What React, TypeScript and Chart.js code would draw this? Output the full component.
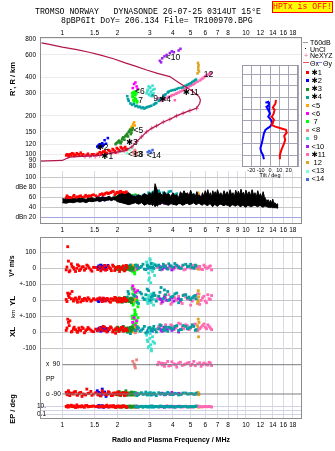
import React, { useEffect, useRef } from 'react';
import { Chart, registerables } from 'chart.js';

Chart.register(...registerables);

const SANS = '"Liberation Sans", Arial, "DejaVu Sans", sans-serif';
const MONO = '"Liberation Mono", "DejaVu Sans Mono", monospace';

// ---- frequency axis (MHz, logarithmic) ----
const FREQ_MIN = 0.756;
const FREQ_MAX = 20.2;
const freqGrid = [1, 1.5, 2, 3, 4, 5, 6, 7, 8, 9, 10, 12, 14, 16, 18];
const freqLabelsTop = [1, 1.5, 2, 3, 4, 5, 6, 7, 8, 10, 12, 14, 16, 18];
const freqLabelsMid = [1, 1.5, 2, 3, 4, 5, 6, 7, 8, 9, 10, 12, 14, 16, 18];
const freqLabelsBottom = [1, 1.5, 2, 3, 4, 5, 6, 7, 8, 10, 12, 14, 16, 18];

// ---- value axes ----
const rangeTicks = [80, 90, 100, 120, 150, 200, 300, 400, 600, 800];
const dbTicks = [20, 40, 60, 80, 100];
const dbTickText: Record<number, string> = { 20: 'dBn 20', 40: '40', 60: '60', 80: 'dBe 80', 100: '100' };
const velTicks = [0, 100];
const ylTicks = [0, 100];
const xlTicks = [-100, 0, 100];
const ppTicks = [-90, 0, 90];
const ppTickText: Record<number, string> = { 90: 'x  90', 0: 'PP', [-90]: 'o -90' };
const epTicks = [0.1, 1, 10];
const epTickText: Record<number, string> = { 10: '10.', 0.1: '0.1' };
const tiltTicks = [-30, -20, -10, 0, 10, 20, 30];
const tiltHeights = [100, 150, 200, 250, 300, 350, 400, 450];

// ---- echoes: [freq MHz, R' km, amplitude dB, V* m/s, YL km, XL km, PP deg, EP deg] ----
type Echo = number[];

const echoes1: Echo[] = [
  [1.05, 98, 60, -10, 5, 10, -80, 12], [1.07, 99, 62, 135, 45, 80, -95, 20], [1.08, 97, 58, 45, 30, 60, -70, 8],
  [1.10, 100, 61, -15, 40, 70, -100, 15], [1.12, 98, 59, 28, 10, 0, -85, 25], [1.15, 101, 63, 5, -5, 20, -90, 10],
  [1.18, 99, 60, -20, 15, 15, -75, 6], [1.20, 102, 62, 0, 0, 5, -95, 30], [1.23, 100, 61, 15, 10, 25, -88, 12],
  [1.26, 103, 64, -5, -10, 10, -80, 9], [1.28, 98, 60, 8, 5, 30, -105, 18], [1.32, 97, 62, -12, 12, -5, -92, 7],
  [1.36, 99, 63, 20, -3, 15, -60, 22], [1.40, 98, 64, 2, 8, 20, -85, 11], [1.45, 100, 65, -18, 0, 5, -98, 14],
  [1.52, 99, 64, 5, 3, 18, -82, 10], [1.56, 101, 62, -8, 10, 8, -95, 14], [1.60, 104, 66, 10, 15, 25, -90, 9],
  [1.65, 103, 68, -5, -8, 10, -70, 16], [1.70, 106, 67, 18, 5, 30, -88, 10], [1.75, 102, 70, -8, 12, 0, -95, 25],
  [1.80, 107, 69, 5, -5, 15, -80, 8], [1.85, 104, 71, -15, 10, 25, -100, 13], [1.90, 108, 72, 12, 0, 10, -85, 20],
  [1.95, 103, 68, -3, 15, -8, -92, 6], [2.00, 110, 70, 8, -10, 20, -78, 15], [2.05, 106, 72, -20, 5, 12, -96, 11],
  [2.10, 112, 69, 0, 10, 28, -88, 9], [2.15, 108, 71, 15, -6, 5, -82, 18], [2.20, 114, 68, -10, 8, 18, -94, 12],
  [2.25, 110, 70, 5, 0, 10, -86, 7],
  [1.06, 100, 64, 8, -8, 25, -92, 9], [1.09, 98, 57, -22, 18, 40, -82, 14], [1.13, 102, 60, 12, 55, 5, -88, 11],
  [1.16, 97, 65, -6, 8, 30, -78, 16], [1.21, 100, 59, 22, -12, -2, -98, 8], [1.24, 98, 63, -14, 20, 12, -84, 13],
  [1.30, 100, 61, 10, -2, 22, -90, 10], [1.34, 98, 65, -2, 6, 8, -96, 19], [1.38, 101, 60, 14, 16, 28, -86, 9],
  [1.43, 97, 63, -10, -6, 12, -74, 12], [1.48, 100, 66, 6, 10, 2, -90, 15], [1.62, 101, 67, -16, 2, 18, -102, 11],
  [1.67, 105, 65, 4, 14, 35, -84, 8], [1.72, 103, 69, -12, -4, 8, -92, 13], [1.78, 108, 68, 14, 8, 22, -76, 10],
  [1.83, 105, 70, -2, -12, 32, -90, 17], [1.88, 110, 73, 20, 6, 0, -98, 9], [1.93, 106, 66, -14, 18, 14, -84, 12],
  [1.98, 112, 71, 2, -2, 26, -90, 10], [2.03, 108, 69, 10, 12, 4, -80, 14], [2.08, 114, 73, -6, -8, 16, -94, 8],
  [2.13, 110, 67, 6, 2, 30, -88, 11], [2.18, 112, 70, -16, 14, 8, -100, 13], [2.23, 108, 72, 18, -4, 20, -84, 9],
];
const echoes2: Echo[] = [
  [1.55, 115, 57, 5, 2, 10, -70, 12], [1.58, 118, 56, 15, -5, 20, -95, 8], [1.60, 120, 58, 0, 5, 25, -85, 15],
  [1.62, 116, 55, 20, 8, 5, -100, 10], [1.65, 122, 57, 10, 0, 15, -60, 18], [1.68, 119, 59, -5, 10, 30, -90, 7],
  [1.70, 129, 56, 12, -3, 12, -78, 11], [1.73, 121, 58, 5, 6, 22, -105, 14], [1.77, 134, 57, 18, 2, 8, -88, 9],
  [1.58, 113, 60, 8, -8, 18, -80, 20], [1.63, 118, 58, 2, 4, 28, -92, 10], [1.66, 116, 56, 14, -2, 12, -84, 13],
];
const echoes3: Echo[] = [
  [1.95, 120, 62, 5, 10, 20, -85, 10], [2.00, 124, 55, -8, -5, 30, -95, 12], [2.04, 128, 65, 10, 15, 5, -75, 8],
  [2.08, 122, 58, -3, 0, 25, -100, 15], [2.12, 132, 68, 8, -12, 12, -88, 9], [2.15, 136, 52, -10, 5, 35, -80, 14],
  [2.18, 130, 60, 2, 18, 8, -92, 11], [2.22, 140, 66, 6, -8, 20, -70, 7], [2.26, 145, 50, -6, 8, 0, -98, 13],
  [2.30, 150, 62, 12, -2, 15, -84, 10], [2.34, 156, 57, -12, 10, 28, -90, 16], [2.38, 148, 64, 0, -15, 10, -78, 8],
  [2.42, 160, 55, 4, 4, 22, -95, 12], [2.10, 126, 62, 6, 12, 18, -82, 9], [2.28, 138, 58, -4, 0, 5, -88, 10],
  [1.97, 122, 58, 0, 0, 10, -90, 11], [2.02, 126, 63, 10, 8, 22, -84, 9], [2.06, 124, 60, -6, -10, 15, -94, 12],
  [2.14, 134, 56, 4, 12, 30, -88, 10], [2.20, 138, 64, -8, -4, 12, -80, 13], [2.24, 142, 60, 10, 6, 25, -92, 8],
  [2.32, 152, 66, -2, -8, 18, -86, 11], [2.36, 144, 54, 8, 14, 5, -96, 9], [2.40, 155, 60, -10, 2, 32, -82, 12],
];
const echoes4: Echo[] = [
  [2.26, 285, 60, 10, 20, 10, -90, 10], [2.30, 262, 58, -5, 40, 25, -85, 12], [2.35, 250, 55, 20, 5, -10, -95, 8],
  [2.45, 248, 62, 0, 30, 15, -80, 14], [2.55, 240, 57, 15, -10, 30, -100, 9], [2.65, 236, 60, 5, 50, 5, -88, 11],
  [2.75, 233, 65, 25, 15, 20, -92, 7], [2.85, 232, 58, -8, 35, -5, -78, 13], [2.95, 236, 70, 10, 60, 25, -90, 10],
  [3.05, 240, 66, 30, 20, 10, -95, 15], [3.15, 245, 72, 0, 45, 35, -85, 9], [3.25, 252, 68, 15, -5, 0, -100, 12],
  [3.35, 262, 74, 20, 25, 20, -82, 8], [3.45, 275, 65, 5, 80, 40, -90, 14], [3.55, 285, 70, 25, 10, 15, -88, 10],
  [3.65, 295, 62, 10, 35, 30, -94, 11], [3.75, 305, 68, -5, 55, 5, -80, 9], [3.90, 315, 73, 15, 20, 25, -92, 13],
  [4.10, 320, 66, 30, 40, 35, -86, 7], [4.30, 330, 60, 5, -15, 10, -96, 10], [4.55, 335, 64, 20, 30, 40, -84, 12],
  [4.80, 350, 58, 10, 15, 20, -90, 8], [5.00, 360, 62, 25, 5, 30, -88, 11], [5.20, 375, 66, 0, 25, 35, -92, 9],
  [5.35, 385, 60, 15, 10, 15, -85, 14], [3.10, 290, 70, 5, 30, 20, -90, 10],
  [2.28, 270, 62, 15, 55, 0, -88, 9], [2.40, 244, 60, -10, 10, 30, -92, 12], [2.50, 238, 64, 20, 25, 8, -86, 10],
  [2.60, 234, 58, 0, -20, 25, -94, 8], [2.70, 230, 62, 12, 40, 12, -82, 13], [2.80, 228, 66, -5, 5, 35, -90, 11],
  [2.90, 234, 60, 18, 70, 0, -96, 9], [3.00, 238, 68, 5, 0, 28, -84, 12], [3.20, 250, 64, 22, 30, 15, -92, 10],
  [3.40, 268, 70, -8, 50, 45, -88, 14], [3.60, 290, 66, 12, 65, 10, -90, 8], [3.80, 310, 72, 28, 0, 30, -86, 11],
  [4.00, 318, 62, 8, 25, 20, -94, 9], [4.20, 325, 68, 18, 45, 40, -88, 12], [4.45, 332, 58, 0, 5, 15, -92, 10],
  [4.70, 345, 66, 25, 35, 35, -84, 13], [4.90, 355, 60, 12, 20, 25, -90, 9], [5.10, 368, 64, 5, 15, 45, -88, 11],
  [5.30, 380, 62, 20, 30, 10, -92, 12],
];
const echoes5: Echo[] = [
  [2.36, 158, 55, 10, 5, 15, -85, 10], [2.40, 165, 52, 0, -10, 5, -95, 12], [2.43, 172, 58, 15, 8, 25, -80, 8],
  [2.46, 178, 54, 5, 0, 10, -90, 14], [2.48, 168, 60, -5, 12, 30, -88, 9], [2.38, 162, 56, 20, -5, 0, -92, 11],
];
const echoes6: Echo[] = [
  [2.42, 330, 62, 5, 90, 60, -90, 10], [2.46, 355, 58, -10, 70, 90, -85, 12], [2.50, 365, 64, 10, 50, 40, -95, 8],
  [2.54, 340, 60, 0, 20, 70, -88, 14], [2.57, 325, 56, 15, 60, 20, -92, 9],
];
const echoes7: Echo[] = [
  [2.40, 300, 62, 10, 80, 100, -90, 10], [2.42, 280, 58, -20, 40, 60, -85, 12], [2.44, 265, 65, 0, -20, 30, -95, 8],
  [2.46, 250, 55, 15, 60, 80, -88, 14], [2.48, 310, 60, -35, -60, 110, -92, 9], [2.50, 290, 66, 5, 20, 45, -80, 11],
  [2.52, 270, 57, -10, -90, 15, -96, 10], [2.55, 255, 63, 20, 0, 70, -86, 13], [2.58, 320, 59, -5, -40, 90, -90, 9],
  [2.45, 295, 61, 8, 10, 50, -84, 12],
  [2.41, 285, 64, -15, 70, 85, -88, 10], [2.43, 305, 57, 12, -30, 40, -92, 12], [2.47, 262, 62, -25, 30, 100, -84, 9],
  [2.49, 275, 58, 2, -75, 20, -96, 11], [2.53, 300, 65, -8, 50, 60, -90, 13], [2.56, 260, 60, 10, -15, 35, -86, 10],
];
const echoes8: Echo[] = [
  [2.42, 104, 58, 5, 10, 5, 110, 10], [2.46, 100, 55, -5, -5, 15, 95, 12], [2.50, 106, 60, 10, 0, -5, 70, 8],
  [2.54, 102, 57, 0, 5, 10, 120, 14], [2.48, 108, 62, -10, 15, 0, 80, 9],
];
const echoes9: Echo[] = [
  [2.88, 300, 60, 40, 10, -20, -90, 10], [2.92, 320, 55, 10, -20, -60, -85, 12], [2.95, 340, 62, -30, 30, -100, -95, 8],
  [2.98, 290, 58, -60, 0, 10, -88, 14], [3.00, 330, 64, 60, 20, -40, -92, 9], [3.03, 310, 57, -90, -10, -80, -80, 11],
  [3.06, 285, 61, 20, 40, -118, -96, 10], [3.10, 345, 59, -20, 15, -30, -86, 13], [3.14, 300, 63, 0, -30, 20, -90, 9],
  [3.18, 325, 56, -45, 5, -70, -84, 12],
  [2.90, 310, 62, 25, -5, -50, -92, 11], [2.96, 295, 58, -75, 25, -90, -88, 9], [3.01, 335, 60, 50, 10, -10, -94, 12],
  [3.05, 305, 64, -10, -15, -105, -86, 10], [3.12, 320, 57, 30, 30, -60, -90, 8],
];
const echoes10: Echo[] = [
  [3.40, 540, 50, 10, 10, 20, -90, 10], [3.50, 565, 52, -5, -10, 5, -85, 12], [3.60, 585, 48, 5, 20, 30, -95, 8],
  [3.70, 600, 54, 0, 0, 15, -88, 14], [3.85, 620, 50, 15, 5, 25, -92, 9], [3.95, 640, 55, -10, 15, 10, -80, 11],
  [4.05, 630, 49, 5, -5, 20, -90, 10], [4.30, 650, 53, 10, 10, 0, -86, 13], [4.40, 670, 51, 0, 0, 15, -90, 9],
  [3.45, 525, 52, 8, 5, 10, -88, 12],
];
const echoes11: Echo[] = [
  [3.30, 270, 60, 5, 10, 20, 90, 10], [3.45, 262, 55, -10, -20, 40, 100, 12], [3.60, 270, 65, 15, 30, 10, 80, 8],
  [3.75, 278, 52, 0, 0, 30, 110, 14], [3.90, 285, 58, 10, -25, 45, 85, 9], [4.05, 292, 62, -5, 20, 15, 95, 11],
  [4.20, 300, 56, 20, 5, 35, 75, 10], [4.40, 310, 60, 5, -10, 50, 105, 13], [4.60, 322, 64, -10, 35, 20, 90, 9],
  [4.80, 335, 55, 15, 10, 40, 100, 12], [5.00, 345, 62, 0, -30, 25, 85, 8], [5.20, 355, 58, 10, 15, 45, 110, 10],
  [5.45, 370, 66, 5, 40, 10, 95, 14], [5.70, 385, 60, -5, 0, 30, 80, 9], [5.90, 400, 57, 20, 25, 50, 100, 11],
  [6.10, 415, 63, 0, -15, 20, 90, 10], [6.30, 425, 59, 10, 10, 35, 105, 12], [6.50, 435, 61, -10, 30, 15, 85, 8],
  [4.10, 265, 54, 5, 15, 30, 92, 10], [3.55, 290, 60, 12, -5, 25, 98, 12],
  [3.35, 275, 64, 10, 25, 35, 105, 11], [3.50, 268, 58, -5, -10, 15, 88, 9], [3.65, 276, 62, 18, 15, 45, 96, 12],
  [3.80, 282, 55, 2, 35, 20, 82, 10], [3.95, 290, 60, -8, -15, 40, 108, 13], [4.15, 298, 64, 12, 0, 25, 90, 8],
  [4.30, 305, 58, 0, 25, 55, 100, 11], [4.50, 315, 62, 15, -20, 30, 86, 9], [4.70, 328, 57, -5, 20, 45, 95, 12],
  [4.90, 340, 65, 8, 5, 15, 104, 10], [5.10, 350, 60, 18, -5, 35, 92, 8], [5.30, 362, 63, 0, 30, 50, 84, 13],
  [5.60, 378, 58, 12, -25, 20, 102, 11], [5.80, 392, 62, -8, 15, 40, 90, 9], [6.00, 408, 59, 10, -5, 30, 96, 12],
  [6.20, 420, 64, 2, 35, 45, 88, 10], [6.40, 430, 58, 15, 5, 25, 100, 11],
];
const echoes12: Echo[] = [
  [5.45, 430, 65, 0, -20, 40, -85, 10], [5.50, 460, 68, 5, 60, 80, -90, 12], [5.52, 500, 62, -5, 20, -30, -95, 8],
  [5.48, 520, 70, 10, 0, 10, -80, 14], [5.55, 445, 66, 0, 40, 60, -92, 9], [5.50, 480, 64, -3, -10, 25, -88, 11],
];
const echoes13: Echo[] = [
  [2.10, 105, 58, 5, 0, 10, -90, 10], [2.18, 110, 55, -5, 10, 0, -85, 12], [2.25, 102, 60, 0, -5, 20, -95, 8],
  [2.32, 108, 62, 10, 5, 5, -88, 14], [2.40, 112, 57, -10, 0, 15, -92, 9],
];
const echoes14: Echo[] = [
  [2.92, 104, 60, 0, 5, 10, -90, 10], [2.98, 106, 58, 5, -5, 0, -85, 12], [3.04, 103, 62, -5, 0, 15, -95, 8],
  [3.10, 108, 56, 10, 10, 5, -88, 14],
];

const traceGroups = [
  { tag: '✱1', color: '#ff0000', echoes: echoes1 },
  { tag: '✱2', color: '#0000ff', echoes: echoes2 },
  { tag: '✱3', color: '#238b23', echoes: echoes3 },
  { tag: '✱4', color: '#00a0a0', echoes: echoes4 },
  { tag: '<5', color: '#ffa500', echoes: echoes5 },
  { tag: '<6', color: '#ff00ff', echoes: echoes6 },
  { tag: ' 7', color: '#00ff00', echoes: echoes7 },
  { tag: '<8', color: '#f08080', echoes: echoes8 },
  { tag: ' 9', color: '#40e0d0', echoes: echoes9 },
  { tag: '<10', color: '#a020f0', echoes: echoes10 },
  { tag: '✱11', color: '#ff69b4', echoes: echoes11 },
  { tag: ' 12', color: '#daa520', echoes: echoes12 },
  { tag: '<13', color: '#7fffd4', echoes: echoes13 },
  { tag: '<14', color: '#4169e1', echoes: echoes14 },
];

// trace tags written next to each trace: [text, freq, R']
const traceTags: [string, number, number][] = [
  ['✱1', 1.63, 95.9], ['✱2', 1.54, 113], ['✱3', 2.22, 124], ['<5', 2.44, 153], ['<6', 2.49, 308],
  ['7', 2.59, 265], ['9', 3.13, 273], ['✱4', 3.37, 269], ['<13', 2.28, 100], ['<8', 2.45, 100],
  ['<14', 2.88, 98], ['<10', 3.66, 570], ['✱11', 4.53, 303], ['12', 5.9, 420],
];

// true-height profile: topside down to the peak and back along the bottomside [freq, km]
const profile: [number, number][] = [
  [0.77, 745], [0.85, 725], [1.0, 690], [1.2, 660], [1.4, 630], [1.6, 600], [1.9, 560], [2.2, 520],
  [2.5, 490], [2.88, 457], [3.3, 430], [3.85, 406], [4.36, 360], [4.8, 330], [5.15, 310], [5.55, 283],
  [5.65, 266], [5.6, 250], [5.38, 229], [4.95, 220], [4.55, 210], [4.19, 200], [3.85, 188], [3.55, 179],
  [3.26, 167], [3.07, 160], [2.88, 150], [2.7, 137], [2.54, 126], [2.39, 114], [2.17, 106.5], [2.01, 104.4],
  [1.86, 102.5], [1.6, 98], [1.33, 96.6], [1.1, 95], [1.06, 93], [1.0, 89.5], [0.756, 88.5],
];
// NeXYZ points on the bottomside
const neXYZ: [number, number][] = [
  [1.33, 96.6], [1.41, 96.6], [1.51, 96.2], [1.6, 97.9], [1.86, 102.5], [2.01, 104.4], [2.17, 106.5],
  [2.39, 114.3], [2.54, 126], [2.7, 137], [2.88, 150], [3.07, 160], [3.26, 167], [3.55, 179], [3.85, 188],
  [4.19, 200], [4.55, 210], [4.95, 220], [5.38, 229],
];

// unclassified echo amplitudes: [freq, upper dB, lower dB]
const unclAmplitude: [number, number, number][] = [
  [1.0, 58, 50], [1.05, 57, 49], [1.1, 56, 51], [1.15, 58, 50], [1.2, 57, 52], [1.25, 59, 51], [1.3, 58, 52],
  [1.35, 57, 50], [1.4, 59, 53], [1.45, 60, 52], [1.5, 58, 53], [1.55, 61, 54], [1.6, 59, 52], [1.65, 62, 55],
  [1.7, 60, 53], [1.75, 61, 55], [1.8, 63, 56], [1.85, 60, 54], [1.9, 62, 56], [1.95, 61, 55], [2.0, 64, 52],
  [2.1, 68, 50], [2.2, 66, 48], [2.3, 70, 46], [2.4, 64, 48], [2.5, 62, 50], [2.6, 66, 47], [2.7, 63, 50],
  [2.8, 68, 45], [2.9, 65, 48], [3.0, 70, 46], [3.05, 64, 48], [3.1, 72, 44], [3.15, 66, 47], [3.2, 88, 42],
  [3.25, 80, 45], [3.3, 74, 43], [3.35, 66, 48], [3.4, 70, 46], [3.5, 64, 49], [3.6, 72, 48], [3.7, 66, 46],
  [3.8, 68, 45], [3.9, 62, 48], [4.0, 70, 47], [4.1, 64, 46], [4.2, 66, 45], [4.3, 60, 48], [4.4, 72, 48],
  [4.5, 66, 45], [4.6, 74, 46], [4.7, 67, 48], [4.8, 70, 49], [4.9, 64, 46], [5.0, 75, 47], [5.1, 66, 48],
  [5.2, 68, 50], [5.3, 62, 47], [5.4, 72, 46], [5.5, 64, 49], [5.6, 65, 48], [5.7, 60, 46], [5.8, 70, 45],
  [5.9, 63, 48], [6.0, 74, 47], [6.1, 66, 45], [6.2, 76, 44], [6.3, 64, 47], [6.4, 70, 48], [6.5, 62, 44],
  [6.6, 74, 42], [6.7, 66, 46], [6.8, 72, 46], [6.9, 65, 44], [7.0, 76, 43], [7.15, 66, 46], [7.3, 70, 47],
  [7.45, 63, 45], [7.6, 74, 44], [7.75, 65, 46], [7.9, 72, 45], [8.05, 64, 44], [8.2, 76, 42], [8.35, 66, 45],
  [8.5, 70, 46], [8.65, 62, 44], [8.8, 75, 43], [8.95, 66, 46], [9.1, 73, 45], [9.25, 65, 43], [9.4, 77, 42],
  [9.55, 67, 45], [9.7, 71, 44], [9.85, 63, 42], [10.0, 75, 41], [10.2, 66, 44], [10.4, 72, 44], [10.6, 64, 42],
  [10.8, 76, 43], [11.0, 66, 44], [11.2, 70, 45], [11.4, 62, 43], [11.6, 74, 42], [11.8, 64, 44], [12.0, 68, 44],
  [12.2, 60, 42], [12.4, 72, 41], [12.6, 62, 43], [12.8, 58, 43], [13.0, 52, 42], [13.2, 56, 41], [13.4, 50, 41],
  [13.6, 55, 40], [13.8, 49, 41], [14.0, 57, 40], [14.2, 48, 40], [14.4, 50, 40], [14.6, 46, 40], [14.8, 48, 39],
  [15.0, 46, 40],
];

// wave-front tilt versus height: [tilt deg, km]
const tiltX: [number, number][] = [
  [6.5, 339], [5.7, 322], [3.0, 307], [4.9, 296], [3.8, 279], [1.9, 267], [4.2, 253], [1.9, 231], [5.7, 224],
  [11.4, 217], [17.1, 210], [17.9, 198], [15.2, 184], [16.3, 167], [14.5, 145], [12.2, 124], [10.6, 102], [10.6, 83],
];
const tiltY: [number, number][] = [
  [-4.9, 327], [-1.9, 331], [-1.1, 317], [-3.8, 310], [-1.9, 296], [0, 281], [-1.9, 267], [1.1, 253], [2.7, 238],
  [0, 224], [-2.7, 217], [-4.9, 210], [-6.5, 195], [-7.6, 174], [-8.8, 152], [-10.3, 131], [-9.5, 116],
  [-7.6, 102], [-6.5, 83],
];

const F = 0, RNG = 1, AMP = 2, VEL = 3, YLC = 4, XLC = 5, POL = 6, ERR = 7;

const tickFont = { family: SANS, size: 6.5 };

function freqAxis(o: { position?: string; labels?: number[]; grid: boolean; height: number; padding?: number; title?: string }) {
  return {
    type: 'logarithmic',
    position: o.position || 'bottom',
    min: FREQ_MIN,
    max: FREQ_MAX,
    bounds: 'data',
    afterBuildTicks: (s: any) => { s.ticks = freqGrid.map((v) => ({ value: v })); },
    afterFit: (s: any) => { s.height = o.height; },
    grid: { display: o.grid, color: '#dadae6', lineWidth: 1, drawTicks: false },
    border: { display: false },
    ticks: {
      display: !!o.labels,
      autoSkip: false,
      maxRotation: 0,
      minRotation: 0,
      padding: o.padding || 0,
      font: tickFont,
      color: '#000',
      callback: (v: any) => (o.labels && o.labels.includes(Number(v)) ? String(v) : ''),
    },
    title: o.title
      ? { display: true, text: o.title, font: { family: SANS, size: 7, weight: 'bold' }, color: '#000', padding: 0 }
      : { display: false },
  };
}

function valueAxis(o: { type?: string; min: number; max: number; ticks: number[]; text: (v: number) => string; grid: any; mirror?: boolean; padding?: number }) {
  return {
    type: o.type || 'linear',
    min: o.min,
    max: o.max,
    bounds: 'data',
    afterBuildTicks: (s: any) => { s.ticks = o.ticks.map((v) => ({ value: v })); },
    afterFit: (s: any) => { s.width = 40; },
    grid: { color: o.grid, lineWidth: 1, drawTicks: false },
    border: { display: false },
    ticks: {
      autoSkip: false,
      mirror: !!o.mirror,
      padding: o.padding === undefined ? 4 : o.padding,
      font: tickFont,
      color: '#000',
      callback: (v: any) => o.text(Number(v)),
    },
  };
}

function scatterSets(field: number, radius: number, clip?: boolean) {
  return traceGroups.map((g) => ({
    type: 'scatter',
    data: g.echoes.map((e) => ({ x: e[F], y: e[field] })),
    backgroundColor: g.color,
    borderColor: g.color,
    borderWidth: 0,
    pointBorderWidth: 0,
    pointStyle: 'rect',
    pointRadius: radius,
    clip: clip ? false : undefined,
  }));
}

function baseOptions(scales: any, padding: any) {
  return {
    responsive: false,
    animation: false,
    devicePixelRatio: 1,
    layout: { padding },
    plugins: { legend: { display: false }, tooltip: { enabled: false } },
    events: [],
    scales,
  };
}

const tagPlugin = {
  id: 'traceTags',
  afterDatasetsDraw(chart: any) {
    const { ctx, scales } = chart;
    ctx.save();
    ctx.font = `8.5px ${SANS}`;
    ctx.fillStyle = '#000';
    ctx.textBaseline = 'middle';
    traceTags.forEach(([t, f, r]) => ctx.fillText(t, scales.x.getPixelForValue(f), scales.y.getPixelForValue(r)));
    ctx.restore();
  },
};

const insetPlugin = {
  id: 'insetBox',
  beforeDraw(chart: any) {
    const { ctx, chartArea: a } = chart;
    ctx.save();
    ctx.fillStyle = '#fff';
    ctx.fillRect(a.left, a.top, a.width, a.height);
    ctx.restore();
  },
  afterDraw(chart: any) {
    const { ctx, chartArea: a } = chart;
    ctx.save();
    ctx.strokeStyle = '#9a9aa6';
    ctx.lineWidth = 1;
    ctx.strokeRect(a.left + 0.5, a.top + 0.5, a.width - 1, a.height - 1);
    ctx.restore();
  },
};

const PAD = 12;

function rangeConfig() {
  return {
    type: 'scatter',
    data: {
      datasets: [
        {
          type: 'line',
          data: profile.map(([x, y]) => ({ x, y })),
          borderColor: '#b0164e',
          borderWidth: 1.2,
          pointRadius: 0,
          fill: false,
          tension: 0,
        },
        {
          type: 'scatter',
          data: neXYZ.map(([x, y]) => ({ x, y })),
          borderColor: '#f0609a',
          borderWidth: 1,
          pointStyle: 'cross',
          pointRadius: 2.2,
        },
        ...scatterSets(RNG, 1.8),
      ],
    },
    options: baseOptions(
      {
        x: freqAxis({ position: 'top', labels: freqLabelsTop, grid: false, height: 12 }),
        y: valueAxis({ type: 'logarithmic', min: 74, max: 829, ticks: rangeTicks, text: (v) => String(v), grid: '#ececec' }),
      },
      { top: 0, bottom: PAD, left: 0, right: 33 }
    ),
    plugins: [tagPlugin],
  };
}

function ampConfig() {
  return {
    type: 'scatter',
    data: {
      datasets: [
        {
          type: 'line',
          data: unclAmplitude.map(([x, hi]) => ({ x, y: hi })),
          borderColor: '#000',
          borderWidth: 1,
          pointRadius: 0,
          backgroundColor: '#000',
          fill: '+1',
        },
        {
          type: 'line',
          data: unclAmplitude.map(([x, , lo]) => ({ x, y: lo })),
          borderColor: '#000',
          borderWidth: 1,
          pointRadius: 0,
          fill: false,
        },
        ...scatterSets(AMP, 1.8),
      ],
    },
    options: baseOptions(
      {
        x: freqAxis({ labels: freqLabelsMid, grid: true, height: 12, padding: 2 }),
        y: valueAxis({
          min: 7.4,
          max: 113.4,
          ticks: dbTicks,
          text: (v) => dbTickText[v] || '',
          grid: (c: any) => (c.tick && c.tick.value === 20 ? '#a4a4e2' : '#c8c8c8'),
        }),
      },
      { top: PAD, bottom: 2, left: 0, right: 33 }
    ),
  };
}

function rowConfig(field: number, y: any, extra: any[] = [], xOpts: any = null, bottomPad = PAD) {
  return {
    type: 'scatter',
    data: { datasets: [...extra, ...scatterSets(field, 2, field === XLC)] },
    options: baseOptions(
      { x: freqAxis(xOpts || { grid: true, height: 0 }), y },
      { top: PAD, bottom: bottomPad, left: 0, right: 33 }
    ),
  };
}

function insetConfig() {
  const line = (pts: [number, number][], color: string) => ({
    type: 'line',
    data: pts.map(([x, y]) => ({ x, y })),
    borderColor: color,
    borderWidth: 2,
    pointRadius: 0,
    fill: false,
  });
  return {
    type: 'line',
    data: { datasets: [line(tiltX, '#ff0000'), line(tiltY, '#0000ff')] },
    options: {
      ...baseOptions(
        {
          x: {
            type: 'linear',
            min: -30,
            max: 30,
            afterBuildTicks: (s: any) => { s.ticks = tiltTicks.map((v) => ({ value: v })); },
            afterFit: (s: any) => { s.height = 8; },
            grid: { color: '#a6a6b6', drawTicks: false },
            border: { display: false },
            ticks: {
              autoSkip: false,
              maxRotation: 0,
              padding: 0,
              font: { family: SANS, size: 5.5 },
              color: '#000',
              callback: (v: any) => (Math.abs(Number(v)) <= 20 ? String(v) : ''),
            },
          },
          y: {
            type: 'linear',
            min: 50,
            max: 490,
            afterBuildTicks: (s: any) => { s.ticks = tiltHeights.map((v) => ({ value: v })); },
            afterFit: (s: any) => { s.width = 0; },
            grid: { color: '#a6a6b6', drawTicks: false },
            border: { display: false },
            ticks: { display: false },
          },
        },
        { top: PAD, bottom: 2, left: 12, right: 12 }
      ),
    },
    plugins: [insetPlugin],
  };
}

const T = (p: { x: number; y: number; text: string; size: number; bold?: boolean; rot?: boolean; left?: boolean; color?: string; family?: string }) => (
  <div
    style={{
      position: 'absolute',
      left: p.x,
      top: p.y,
      transform: `translate(${p.left ? '0' : '-50%'},-50%)${p.rot ? ' rotate(-90deg)' : ''}`,
      fontSize: p.size,
      fontWeight: p.bold ? 700 : 400,
      fontFamily: p.family || SANS,
      color: p.color || '#000',
      whiteSpace: 'pre',
      lineHeight: 1,
    }}
  >
    {p.text}
  </div>
);

export default function App() {
  const refs = [useRef<HTMLCanvasElement>(null), useRef<HTMLCanvasElement>(null), useRef<HTMLCanvasElement>(null),
    useRef<HTMLCanvasElement>(null), useRef<HTMLCanvasElement>(null), useRef<HTMLCanvasElement>(null),
    useRef<HTMLCanvasElement>(null), useRef<HTMLCanvasElement>(null)];

  useEffect(() => {
    document.body.style.margin = '0';
    const grid = '#c6c6c6';
    const configs: any[] = [
      rangeConfig(),
      ampConfig(),
      rowConfig(VEL, valueAxis({ min: -98.1, max: 195.6, ticks: velTicks, text: (v) => String(v), grid })),
      rowConfig(YLC, valueAxis({ min: -98.1, max: 101.9, ticks: ylTicks, text: (v) => (v === 0 ? '0' : '+-100'), grid })),
      rowConfig(XLC, valueAxis({ min: -100, max: 100, ticks: xlTicks, text: (v) => (v === 0 ? '0' : v > 0 ? '+-100' : '-100'), grid })),
      rowConfig(
        POL,
        valueAxis({ min: -126.9, max: 192.6, ticks: ppTicks, text: (v) => ppTickText[v] || '', grid: 'rgba(0,0,0,0)', mirror: true, padding: 6 }),
        [90, -90].map((a) => ({
          type: 'line',
          data: [{ x: 1.0, y: a }, { x: FREQ_MAX, y: a }],
          borderColor: '#7c7c7c',
          borderWidth: 1,
          pointRadius: 0,
          fill: false,
        }))
      ),
      rowConfig(
        ERR,
        valueAxis({ type: 'logarithmic', min: 0.0058, max: 579, ticks: epTicks, text: (v) => epTickText[v] || '', grid: '#d2d2e6', mirror: true, padding: -3 }),
        [],
        { labels: freqLabelsBottom, grid: true, height: 25, padding: 2, title: 'Radio and Plasma Frequency / MHz' },
        2
      ),
      insetConfig(),
    ];
    const charts = configs.map((c, i) => new Chart(refs[i].current as HTMLCanvasElement, c));
    return () => charts.forEach((c) => c.destroy());
  }, []);

  const canvases = [
    { top: 25, height: 158 },
    { top: 159, height: 79 },
    { top: 225, height: 71 },
    { top: 272, height: 56 },
    { top: 304, height: 56 },
    { top: 336, height: 76 },
    { top: 388, height: 58 },
  ];

  return (
    <div style={{ position: 'absolute', left: 0, top: 0, width: 335, height: 451, background: '#fff', overflow: 'hidden' }}>
      {canvases.map((c, i) => (
        <canvas key={i} ref={refs[i]} width={335} height={c.height} style={{ position: 'absolute', left: 0, top: c.top }} />
      ))}
      <canvas ref={refs[7]} width={80} height={124} style={{ position: 'absolute', left: 230, top: 53 }} />

      <div style={{ position: 'absolute', left: 40, top: 37, width: 262, height: 187, border: '1px solid #8c8c8c', boxSizing: 'border-box' }} />
      <div style={{ position: 'absolute', left: 40, top: 237, width: 262, height: 182, border: '1px solid #8c8c8c', boxSizing: 'border-box' }} />

      <T x={35} y={12} left text="TROMSO NORWAY   DYNASONDE 26-07-25 0314UT 15°E" size={8.2} family={MONO} />
      <T x={61} y={20.5} left text="8pBP6It DoY= 206.134 File= TR100970.BPG" size={8.2} family={MONO} />
      <div
        style={{
          position: 'absolute', left: 272, top: 1, width: 61, height: 12, boxSizing: 'border-box',
          background: '#ffff00', border: '1px solid #ff0000', color: '#ff0000', fontFamily: MONO,
          fontSize: 8.2, lineHeight: '10px', textAlign: 'center', whiteSpace: 'pre',
        }}
      >
        HPTx is OFF!
      </div>

      <T x={12.5} y={79} text="R', R / km" size={7.5} bold rot />
      <T x={11} y={266} text="V* m/s" size={7} bold rot />
      <T x={12.5} y={301} text="YL" size={8} bold rot />
      <T x={13} y={314} text="km" size={6} rot />
      <T x={12.5} y={332} text="XL" size={8} bold rot />
      <T x={12.5} y={409} text="EP / deg" size={7.5} bold rot />
      <T x={270} y={175.5} text="Tilt / deg" size={5.5} />

      {/* legend */}
      <div style={{ position: 'absolute', left: 303, top: 42, width: 5, height: 1, background: '#9a9a9a' }} />
      <T x={310} y={42} left text="T60dB" size={7} />
      <div style={{ position: 'absolute', left: 305, top: 48, width: 1, height: 1, background: '#000' }} />
      <T x={310} y={48.5} left text="UnCl" size={7} />
      <T x={306} y={55} text="+" size={7} color="#f0609a" />
      <T x={310} y={55} left text="NeXYZ" size={7} />
      <div style={{ position: 'absolute', left: 303, top: 62, width: 6, height: 1, background: '#f04870' }} />
      <T x={310} y={62.5} left text="Θx" size={7} />
      <div style={{ position: 'absolute', left: 317, top: 62, width: 5, height: 1, background: '#8080ff' }} />
      <T x={323} y={62.5} left text="Θy" size={7} />
      {traceGroups.map((g, i) => (
        <React.Fragment key={g.tag}>
          <div style={{ position: 'absolute', left: 306, top: 71.2 + i * 8.2, width: 3, height: 3, background: g.color }} />
          <T x={311.5} y={72.7 + i * 8.2} left text={g.tag} size={7.5} />
        </React.Fragment>
      ))}
    </div>
  );
}
